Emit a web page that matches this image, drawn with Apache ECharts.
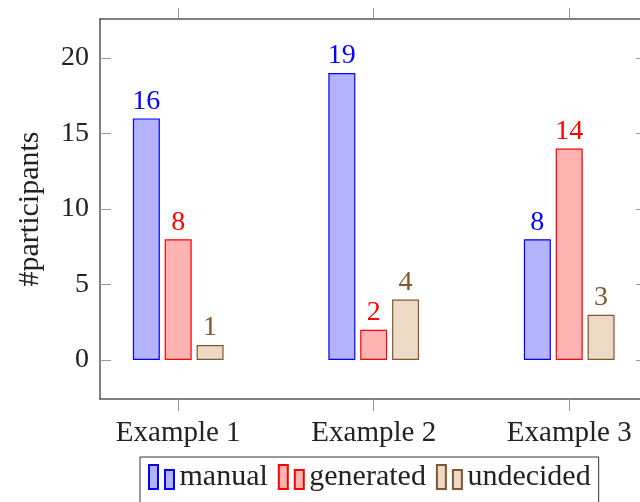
<!DOCTYPE html>
<html>
<head>
<meta charset="utf-8">
<script src="https://cdn.jsdelivr.net/npm/echarts@6/dist/echarts.min.js"></script>
<style>
  html, body { margin: 0; padding: 0; background: #fff; }
  #chart { width: 640px; height: 502px; }
</style>
</head>
<body>
<div id="chart"></div>
<script>
var categories = ['Example 1', 'Example 2', 'Example 3']
var seriesNames = ['manual', 'generated', 'undecided']
var manual = [16, 19, 8]
var generated = [8, 2, 14]
var undecided = [1, 4, 3]
var yTicks = [0, 5, 10, 15, 20]
var xTicks = [0, 1, 2]

var font = 'Liberation Serif'
var strokes = ['#0000ff', '#ff0000', '#80572f']
var fills = ['#b3b3ff', '#ffb3b3', '#ecd9c6']

function toPoints (vals) {
  return vals.map(function (v, i) { return [i, v] })
}

function makeSeries (name, vals, k) {
  return {
    name: name,
    type: 'bar',
    data: toPoints(vals),
    barWidth: 27,
    barGap: '18%',
    itemStyle: { color: fills[k], borderColor: strokes[k], borderWidth: 1.2 },
    label: {
      show: true,
      position: 'top',
      distance: 3,
      color: strokes[k],
      fontFamily: font,
      fontSize: 28,
      formatter: function (p) { return p.value[1] }
    }
  }
}

var chart = echarts.init(document.getElementById('chart'))
var axisLineStyle = { color: '#555', width: 1.5 }
var tickStyle = { color: '#999', width: 1 }

// the plot box runs past the right edge of the picture, so the x range is cut at 640px
chart.setOption({
  animation: false,
  grid: { left: 100, top: 19, right: 0, height: 380 },
  xAxis: [{
    type: 'value',
    position: 'bottom',
    min: -0.4,
    max: 2.362,
    axisLine: { show: true, onZero: false, lineStyle: axisLineStyle },
    axisTick: { show: true, inside: false, length: 12, customValues: xTicks, lineStyle: tickStyle },
    axisLabel: {
      customValues: xTicks,
      margin: 20,
      color: '#222',
      fontFamily: font,
      fontSize: 29,
      formatter: function (v) { return categories[Math.round(v)] }
    },
    splitLine: { show: false }
  }, {
    type: 'value',
    position: 'top',
    min: -0.4,
    max: 2.362,
    axisLine: { show: true, onZero: false, lineStyle: axisLineStyle },
    axisTick: { show: true, inside: false, length: 11, customValues: xTicks, lineStyle: tickStyle },
    axisLabel: { show: false },
    splitLine: { show: false }
  }],
  yAxis: [{
    type: 'value',
    position: 'left',
    min: -2.58,
    max: 22.58,
    name: '#participants',
    nameLocation: 'middle',
    nameGap: 55,
    nameTextStyle: { color: '#222', fontFamily: font, fontSize: 30 },
    axisLine: { show: true, onZero: false, lineStyle: axisLineStyle },
    axisTick: { show: true, inside: true, length: 11, customValues: yTicks, lineStyle: tickStyle },
    axisLabel: { customValues: yTicks, margin: 11, color: '#222', fontFamily: font, fontSize: 28 },
    splitLine: { show: false }
  }, {
    type: 'value',
    position: 'right',
    min: -2.58,
    max: 22.58,
    axisLine: { show: false, onZero: false },
    axisTick: { show: true, inside: true, length: 4, customValues: yTicks, lineStyle: tickStyle },
    axisLabel: { show: false },
    splitLine: { show: false }
  }],
  legend: {
    left: 140,
    top: 457,
    orient: 'horizontal',
    data: seriesNames,
    icon: 'path://M0,0 H9 V24 H0 Z M16,5 H25 V24 H16 Z',
    itemWidth: 26,
    itemHeight: 24,
    itemGap: 10,
    padding: [5, 8, 12, 8],
    borderColor: '#333',
    borderWidth: 1,
    textStyle: { color: '#222', fontFamily: font, fontSize: 30 }
  },
  series: [
    makeSeries(seriesNames[0], manual, 0),
    makeSeries(seriesNames[1], generated, 1),
    makeSeries(seriesNames[2], undecided, 2)
  ]
})
</script>
</body>
</html>
